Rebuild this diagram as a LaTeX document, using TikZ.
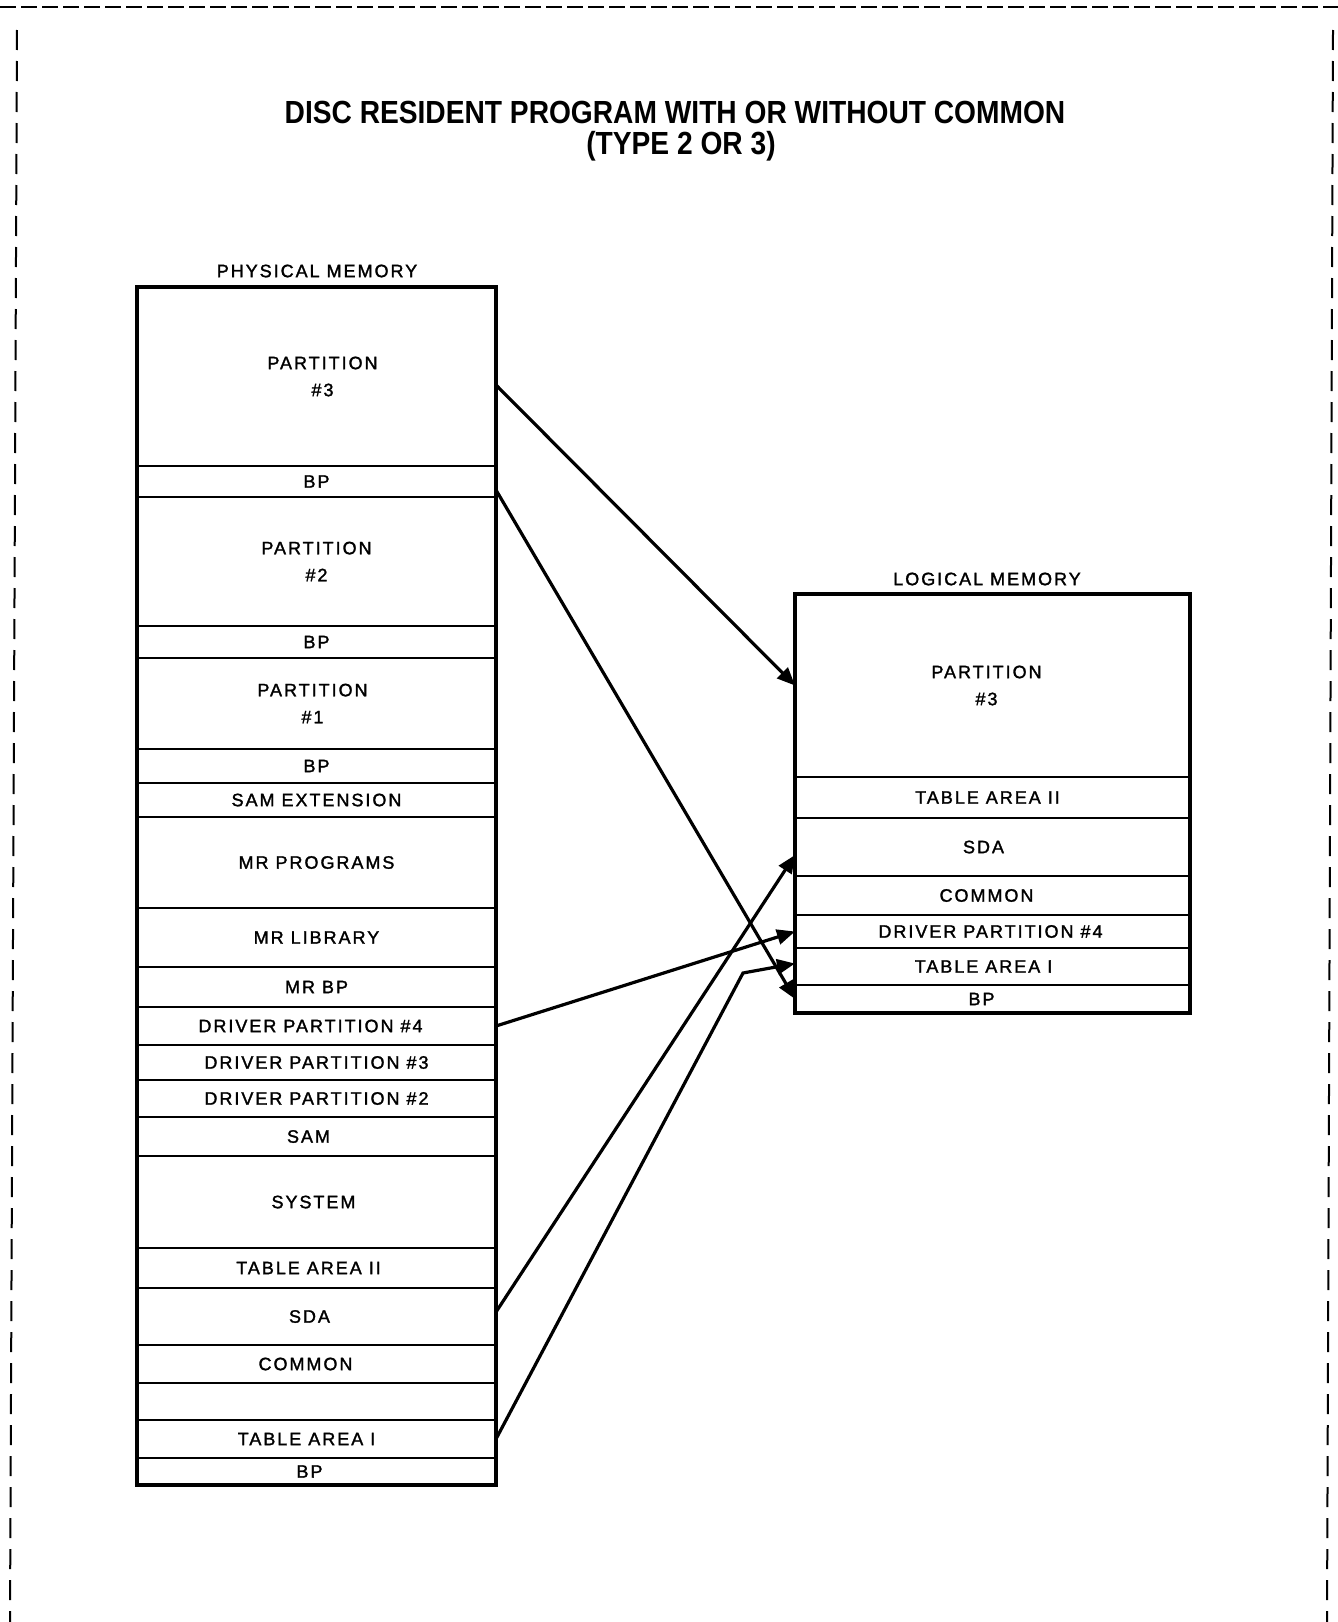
\documentclass[tikz,border=0pt]{standalone}
\usepackage{fontspec}
\setmainfont{Liberation Sans}
\newfontfamily\lblfont[LetterSpace=11,FakeBold=1.6]{Liberation Sans}
\newfontfamily\ttlfont[FakeStretch=0.88]{Liberation Sans}
\usetikzlibrary{arrows.meta}
\begin{document}
\begin{tikzpicture}[x=0.5pt,y=-0.5pt,
  cell/.style={draw, line width=1.2pt, rectangle, inner sep=0pt, outer sep=0pt,
    anchor=north west, align=center, font=\lblfont\fontsize{9}{13.5}\selectfont},
  pcell/.style={cell, minimum width=179.5pt},
  lcell/.style={cell, minimum width=197.5pt},
  outer/.style={line width=1.6pt},
  heading/.style={font=\lblfont\fontsize{9}{11}\selectfont, inner sep=0pt},
  conn/.style={line width=1.6pt, line join=miter, -{Triangle[length=9pt,width=7.5pt]}},
  hframe/.style={line width=1.1pt, dash pattern=on 8pt off 2.5pt},
  vframe/.style={line width=1pt, dash pattern=on 10pt off 5.5pt}]
\useasboundingbox (0,0) rectangle (1338,1622);

% dashed frame
\draw[hframe] (0,7) -- (1338,7);
\draw[vframe] (17,30) -- (10,1622);
\draw[vframe] (1333,30) -- (1327,1622);

% title
\node[font=\ttlfont\bfseries\fontsize{16}{15.5}\selectfont, align=center] (title) at (675,131.5)
  {DISC RESIDENT PROGRAM WITH OR WITHOUT COMMON\\\kern6pt(TYPE 2 OR 3)};

% physical memory
\node[heading] (phys) at (317,271) {PHYSICAL MEMORY};
\node[pcell, minimum height=89.5pt] (p1) at (137,287) {\kern6pt PARTITION\\\kern6pt\#3};
\node[pcell, minimum height=15.5pt] (p2) at (137,466) {BP};
\node[pcell, minimum height=64.5pt] (p3) at (137,497) {PARTITION\\\#2};
\node[pcell, minimum height=16pt] (p4) at (137,626) {BP};
\node[pcell, minimum height=45.5pt] (p5) at (137,658) {PARTITION\kern4pt\\\#1\kern4pt};
\node[pcell, minimum height=17pt] (p6) at (137,749) {BP};
\node[pcell, minimum height=17pt] (p7) at (137,783) {SAM EXTENSION};
\node[pcell, minimum height=45.5pt] (p8) at (137,817) {MR PROGRAMS};
\node[pcell, minimum height=29.5pt] (p9) at (137,908) {MR LIBRARY};
\node[pcell, minimum height=20pt] (p10) at (137,967) {MR BP};
\node[pcell, minimum height=19pt] (p11) at (137,1007) {DRIVER PARTITION \#4\kern6pt};
\node[pcell, minimum height=17.5pt] (p12) at (137,1045) {DRIVER PARTITION \#3};
\node[pcell, minimum height=18.5pt] (p13) at (137,1080) {DRIVER PARTITION \#2};
\node[pcell, minimum height=19.5pt] (p14) at (137,1117) {SAM\kern8pt};
\node[pcell, minimum height=46pt] (p15) at (137,1156) {SYSTEM\kern3pt};
\node[pcell, minimum height=20pt] (p16) at (137,1248) {TABLE AREA II\kern8pt};
\node[pcell, minimum height=28.5pt] (p17) at (137,1288) {SDA\kern7pt};
\node[pcell, minimum height=19pt] (p18) at (137,1345) {COMMON\kern11pt};
\node[pcell, minimum height=18.5pt] (p19) at (137,1383) {};
\node[pcell, minimum height=19pt] (p20) at (137,1420) {TABLE AREA I\kern10pt};
\node[pcell, minimum height=13.5pt] (p21) at (137,1458) {BP\kern7pt};
\draw[outer] (p1.north west) rectangle (p21.south east);

% logical memory
\node[heading] (logi) at (987,579) {LOGICAL MEMORY};
\node[lcell, minimum height=91.5pt] (l1) at (795,594) {PARTITION\kern6pt\\\#3\kern6pt};
\node[lcell, minimum height=20.5pt] (l2) at (795,777) {TABLE AREA II\kern5pt};
\node[lcell, minimum height=29pt] (l3) at (795,818) {SDA\kern9pt};
\node[lcell, minimum height=19.5pt] (l4) at (795,876) {COMMON\kern6pt};
\node[lcell, minimum height=16.5pt] (l5) at (795,915) {DRIVER PARTITION \#4\kern2pt};
\node[lcell, minimum height=18.5pt] (l6) at (795,948) {TABLE AREA I\kern9pt};
\node[lcell, minimum height=14pt] (l7) at (795,985) {BP\kern11pt};
\draw[outer] (l1.north west) rectangle (l7.south east);

% connectors
\coordinate (bend) at (743,973);
\draw[conn] ([yshift=-4.25pt]p1.east) -- (l1.west);
\draw[conn] ([yshift=-4.25pt]p2.east) -- (l7.west);
\draw[conn] (p11.east) -- (l5.west);
\draw[conn] ([yshift=2.25pt]p17.east) -- ([yshift=-4pt]l3.west);
\draw[conn] (p20.east) -- (bend) -- ([yshift=1.5pt]l6.west);
\end{tikzpicture}
\end{document}
